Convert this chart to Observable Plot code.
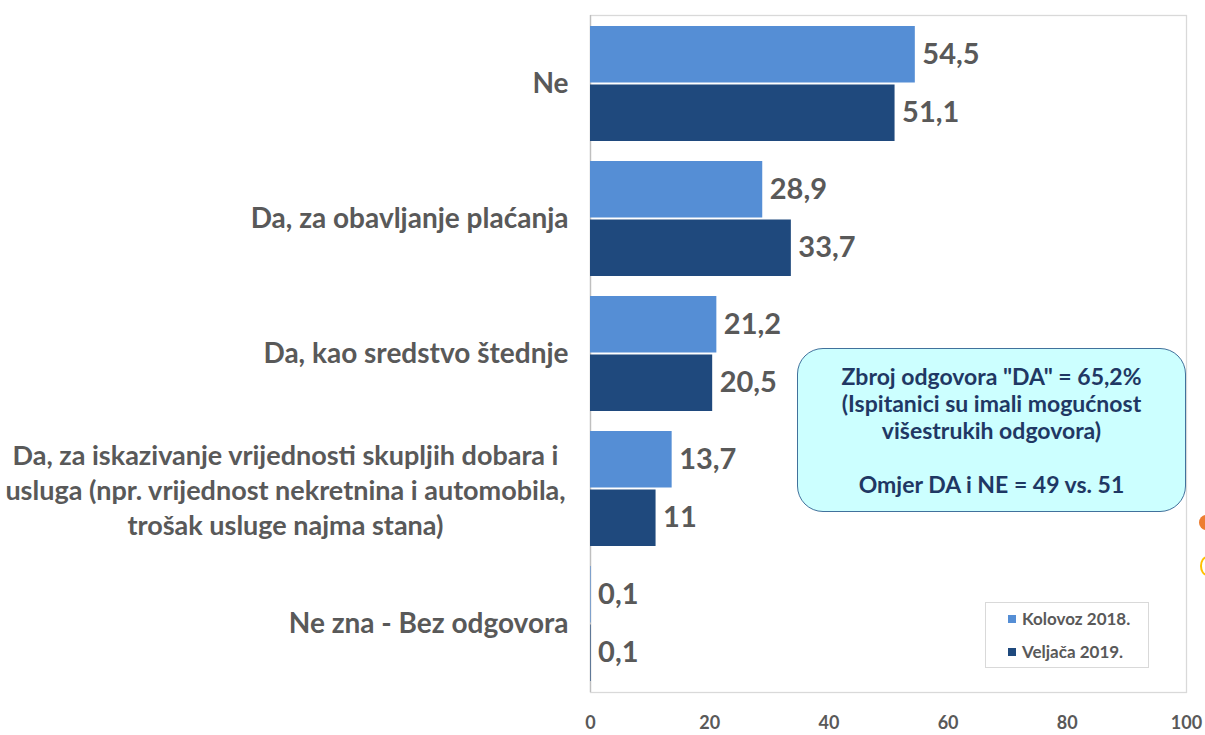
<!DOCTYPE html>
<html>
<head>
<meta charset="utf-8">
<script src="https://cdn.jsdelivr.net/npm/d3@7"></script>
<script src="https://cdn.jsdelivr.net/npm/@observablehq/plot@0.6"></script>
<style>
  html, body { margin: 0; padding: 0; background: #fff; }
  #wrap { position: relative; width: 1205px; height: 735px; overflow: hidden; font-family: Lato, "Open Sans", sans-serif; }
  #note {
    position: absolute; left: 797px; top: 348px; width: 389px; height: 164px;
    background: #ccffff; border: 1.5px solid #41719c; border-radius: 26px;
    color: #1f3864; font-weight: 700; font-size: 23px; line-height: 27px;
    text-align: center; box-sizing: border-box; padding-top: 14px;
  }
  #legend {
    position: absolute; left: 985px; top: 602px; width: 164px; height: 66px;
    background: #fff; border: 1px solid #d9d9d9; box-sizing: border-box;
    color: #595959; font-weight: 700; font-size: 17px;
  }
  #legend .row { position: absolute; left: 22px; display: flex; align-items: center; }
  #legend .sw { width: 8px; height: 8px; margin-right: 6px; }
  .dot { position: absolute; border-radius: 50%; }
</style>
</head>
<body>
<div id="wrap"></div>
<script>
const categories = [
  "Ne",
  "Da, za obavljanje plaćanja",
  "Da, kao sredstvo štednje",
  "Da, za iskazivanje vrijednosti skupljih dobara i\nusluga (npr. vrijednost nekretnina i automobila,\ntrošak usluge najma stana)",
  "Ne zna - Bez odgovora"
];
const seriesNames = ["Kolovoz 2018.", "Veljača 2019."];
const kolovoz2018 = [54.5, 28.9, 21.2, 13.7, 0.1];
const veljaca2019 = [51.1, 33.7, 20.5, 11, 0.1];
const xTicks = [0, 20, 40, 60, 80, 100];
const colors = ["#558ed5", "#1f497d"];
const noteLines = [
  "Zbroj odgovora \"DA\" = 65,2%",
  "(Ispitanici su imali mogućnost",
  "višestrukih odgovora)",
  "",
  "Omjer DA i NE = 49 vs. 51"
];

const rowsK = categories.map((c, i) => ({category: c, value: kolovoz2018[i]}));
const rowsV = categories.map((c, i) => ({category: c, value: veljaca2019[i]}));
const fmt = v => String(v).replace(".", ",");
const longLabel = categories[3];
const shortLabels = categories.filter(c => c !== longLabel);

const font = "Lato, 'Open Sans', sans-serif";
const plot = Plot.plot({
  width: 1205,
  height: 735,
  marginLeft: 590,
  marginRight: 19,
  marginTop: 15,
  marginBottom: 43,
  style: {fontFamily: font, background: "#fff"},
  x: {domain: [0, 100]},
  y: {domain: categories, paddingInner: 0.15, paddingOuter: 0.075},
  marks: [
    Plot.frame({stroke: "#d9d9d9", strokeWidth: 1.3}),
    Plot.ruleX([0], {stroke: "#bfbfbf", strokeWidth: 1.3}),
    Plot.barX(rowsK, {x: "value", y: "category", fill: colors[0], insetBottom: 58.5}),
    Plot.barX(rowsV, {x: "value", y: "category", fill: colors[1], insetTop: 58.5}),
    Plot.text(rowsK, {x: "value", y: "category", text: d => fmt(d.value), dy: -29, dx: 7, textAnchor: "start", fill: "#595959", fontWeight: 700, fontSize: 29}),
    Plot.text(rowsV, {x: "value", y: "category", text: d => fmt(d.value), dy: 29, dx: 7, textAnchor: "start", fill: "#595959", fontWeight: 700, fontSize: 29}),
    Plot.axisX({ticks: xTicks, tickSize: 0, tickPadding: 24, label: null, fill: "#595959", fontWeight: 700, fontSize: 18, tickFormat: d => String(d)}),
    Plot.axisY({ticks: shortLabels, tickSize: 0, tickPadding: 22, label: null, fill: "#595959", fontWeight: 700, fontSize: 28, textAnchor: "end"}),
    Plot.axisY({ticks: [longLabel], tickSize: 0, tickPadding: 0, dx: -305, label: null, fill: "#595959", fontWeight: 700, fontSize: 27, textAnchor: "middle", lineHeight: 1.3})
  ]
});
const wrap = document.getElementById("wrap");
wrap.appendChild(plot);

const note = document.createElement("div");
note.id = "note";
note.innerHTML = noteLines.map(l => `<div>${l || "&nbsp;"}</div>`).join("");
wrap.appendChild(note);

const legend = document.createElement("div");
legend.id = "legend";
seriesNames.forEach((s, i) => {
  const row = document.createElement("div");
  row.className = "row";
  row.style.top = (i === 0 ? 5 : 38) + "px";
  row.innerHTML = `<span class="sw" style="background:${colors[i]}"></span><span>${s}</span>`;
  legend.appendChild(row);
});
wrap.appendChild(legend);

const d1 = document.createElement("div");
d1.className = "dot";
Object.assign(d1.style, {left: "1199px", top: "515px", width: "14px", height: "15px", background: "#ed7d31"});
wrap.appendChild(d1);
const d2 = document.createElement("div");
d2.className = "dot";
Object.assign(d2.style, {left: "1200px", top: "556px", width: "14px", height: "20px", border: "2px solid #ffc000", boxSizing: "border-box"});
wrap.appendChild(d2);
</script>
</body>
</html>
